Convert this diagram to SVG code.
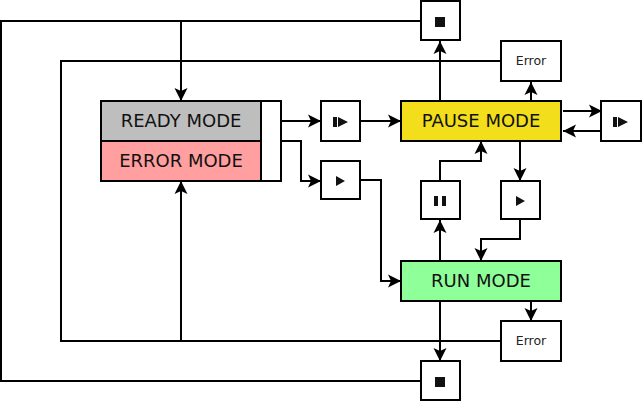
<svg xmlns="http://www.w3.org/2000/svg" width="642" height="403" viewBox="0 0 642 403">
<style>
.box{stroke:#000;stroke-width:2;fill:#fff}
.lbl{font-family:"DejaVu Sans",sans-serif;font-size:18px;text-anchor:middle;fill:#111}
.err{font-family:"DejaVu Sans",sans-serif;font-size:12.5px;text-anchor:middle;fill:#222}
.ic{fill:#111}
#connectors path{fill:none;stroke:#000;stroke-width:2}
.a{marker-end:url(#arrow)}
</style>
<defs>
<marker id="arrow" markerUnits="userSpaceOnUse" markerWidth="14" markerHeight="14" refX="13" refY="7" orient="auto" overflow="visible">
<path d="M0,0.5 L13,7 L0,13.5 L3,7 Z" fill="#000"/>
</marker>
</defs>
<rect width="642" height="403" fill="#fff"/>
<g id="connectors">
<path d="M421,21H1V381H421"/>
<path class="a" d="M181,21V101"/>
<path d="M501,61H61V341H501"/>
<path class="a" d="M181,341V181"/>
<path class="a" d="M440,101V41"/>
<path class="a" d="M531,101V82"/>
<path class="a" d="M563,111H602"/>
<path class="a" d="M601,131H563"/>
<path class="a" d="M281,121H321"/>
<path class="a" d="M360,121H401"/>
<path class="a" d="M281,141H301V181H321"/>
<path class="a" d="M360,180H381V281H401"/>
<path class="a" d="M440,181V161H481V141"/>
<path class="a" d="M440,261V220"/>
<path class="a" d="M520,141V181"/>
<path class="a" d="M520,219V239H481V261"/>
<path class="a" d="M531,301V321"/>
<path class="a" d="M440,301V361"/>
</g>
<g id="ready-mode"><rect class="box" x="101" y="101" width="160" height="40" style="fill:#bebebe"/><text class="lbl" x="181" y="127">READY MODE</text></g>
<g id="error-mode"><rect class="box" x="101" y="141" width="160" height="40" style="fill:#ff9f9f"/><text class="lbl" x="181" y="167">ERROR MODE</text></g>
<g id="side-box"><rect class="box" x="261" y="101" width="20" height="80"/></g>
<g id="step-1"><rect class="box" x="321" y="101" width="39" height="40"/><path class="ic" d="M333,117h4v10h-4zM338,117l10,5l-10,5z"/></g>
<g id="play-1"><rect class="box" x="321" y="161" width="39" height="38"/><path class="ic" d="M336,176l9,5l-9,5z"/></g>
<g id="pause-mode"><rect class="box" x="401" y="101" width="160" height="40" style="fill:#f2de1a"/><text class="lbl" x="481" y="127">PAUSE MODE</text></g>
<g id="step-2"><rect class="box" x="601" y="101" width="40" height="40"/><path class="ic" d="M613,117h4v10h-4zM618,117l10,5l-10,5z"/></g>
<g id="stop-top"><rect class="box" x="421" y="1" width="39" height="39"/><path class="ic" d="M435,17h10v10h-10z"/></g>
<g id="error-top"><rect class="box" x="501" y="41" width="60" height="40"/><text class="err" x="531" y="65">Error</text></g>
<g id="pause-btn"><rect class="box" x="421" y="181" width="39" height="38"/><path class="ic" d="M434,196h4v10h-4zM442,196h4v10h-4z"/></g>
<g id="play-2"><rect class="box" x="501" y="181" width="39" height="38"/><path class="ic" d="M516,196l9,5l-9,5z"/></g>
<g id="run-mode"><rect class="box" x="401" y="261" width="160" height="40" style="fill:#8fff9a"/><text class="lbl" x="481" y="287">RUN MODE</text></g>
<g id="error-bottom"><rect class="box" x="501" y="321" width="60" height="40"/><text class="err" x="531" y="345">Error</text></g>
<g id="stop-bottom"><rect class="box" x="421" y="361" width="39" height="39"/><path class="ic" d="M435,377h10v10h-10z"/></g>
</svg>
